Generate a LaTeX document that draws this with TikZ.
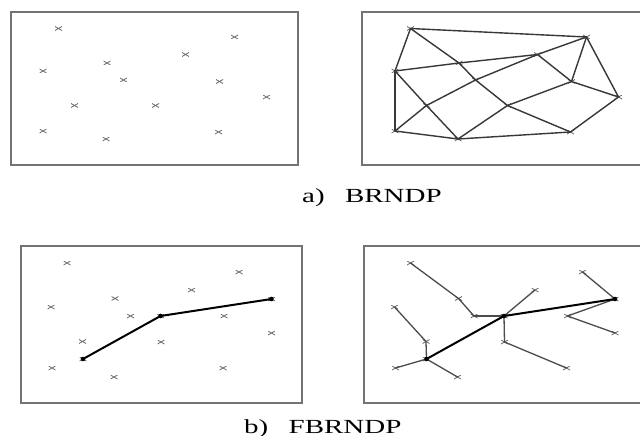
\documentclass[tikz,border=0pt]{standalone}
\usepackage{fontspec}
\setmainfont{Liberation Serif}
\begin{document}
\begin{tikzpicture}[x=1pt,y=-1pt,
  frame/.style={draw=black!55, line width=1.4pt},
  xm/.style={inner sep=0pt, outer sep=0pt, minimum width=7pt, minimum height=4pt,
    path picture={\draw[black!60, line width=0.8pt]
      (path picture bounding box.south west) -- (path picture bounding box.north east)
      (path picture bounding box.north west) -- (path picture bounding box.south east);}},
  net/.style={draw=black!78, line width=1.4pt, line cap=round},
  tree/.style={draw=black!70, line width=1.3pt, line cap=round},
  bold/.style={draw=black, line width=2pt, line cap=round},
  pdot/.style={circle, fill=black, inner sep=0pt, minimum size=4.6pt},
  captxt/.style={font=\fontsize{20}{24}\selectfont, inner sep=0pt, anchor=base west}
]
\useasboundingbox (0,0) rectangle (640,436);
\clip (0,0) rectangle (640,436);
\fill[white] (0,0) rectangle (640,436);

% frames
\draw[frame] (11,12) rectangle (298,165);
\draw[frame] (362,12) rectangle (652,165);
\draw[frame] (21,246) rectangle (302,403);
\draw[frame] (364,246) rectangle (652,403);

% top points
\foreach \n/\x/\y in {A/58.5/28.5, B/234.5/37, H/185.5/54.5, D/107/63, C/43/71,
  E/123.5/80, J/219.5/81.5, M/266.5/97, I/74.5/105.5, F/155.5/105.5,
  K/43/131, G/218.5/132, L/106/139} {
  \node[xm] (l\n) at (\x,\y) {};
  \node[xm] (r\n) at (\x+352,\y) {};
}

% top-right network
\foreach \u/\v in {A/B, A/C, A/D, D/E, E/F, F/G, C/D, D/H, I/E, E/H, H/B, H/J,
  C/K, C/I, I/L, K/I, K/L, L/F, F/J, J/B, B/M, J/M, M/G, L/G}
  \draw[net] (r\u.center) -- (r\v.center);

% bottom points
\foreach \n/\x/\y in {p1/67/263, p2/239/272, p3/191.5/290, p4/115/298.5, p5/51/307,
  p6/130.5/316, p7/224/316, p8/271.5/333, p9/82.5/341.5, p10/161/342,
  p11/52/368, p12/223/368, p13/114/377, P1/83/359, P2/160.5/316, P3/271.5/299} {
  \node[xm] (bl\n) at (\x,\y) {};
  \node[xm] (br\n) at (\x+343.5,\y) {};
}

% bottom-left path
\draw[bold] (blP1.center) -- (blP2.center) -- (blP3.center);
\foreach \n in {P1,P2,P3} \node[pdot] at (bl\n.center) {};

% bottom-right tree
\foreach \u/\v in {p1/p4, p4/p6, p6/P2, P2/p3, P2/p10, p10/p12, P3/p2, P3/p7,
  p7/p8, p5/p9, p9/P1, P1/p11, P1/p13}
  \draw[tree] (br\u.center) -- (br\v.center);
\draw[bold] (brP1.center) -- (brP2.center) -- (brP3.center);
\foreach \n in {P1,P2,P3} \node[pdot] at (br\n.center) {};

% captions
\node[captxt] (capa) at (302,202) {\scalebox{1.45}[1]{a)\hspace{14pt}BRNDP}};
\node[captxt] (capb) at (244,433) {\scalebox{1.45}[1]{b)\hspace{14pt}FBRNDP}};
\end{tikzpicture}
\end{document}
